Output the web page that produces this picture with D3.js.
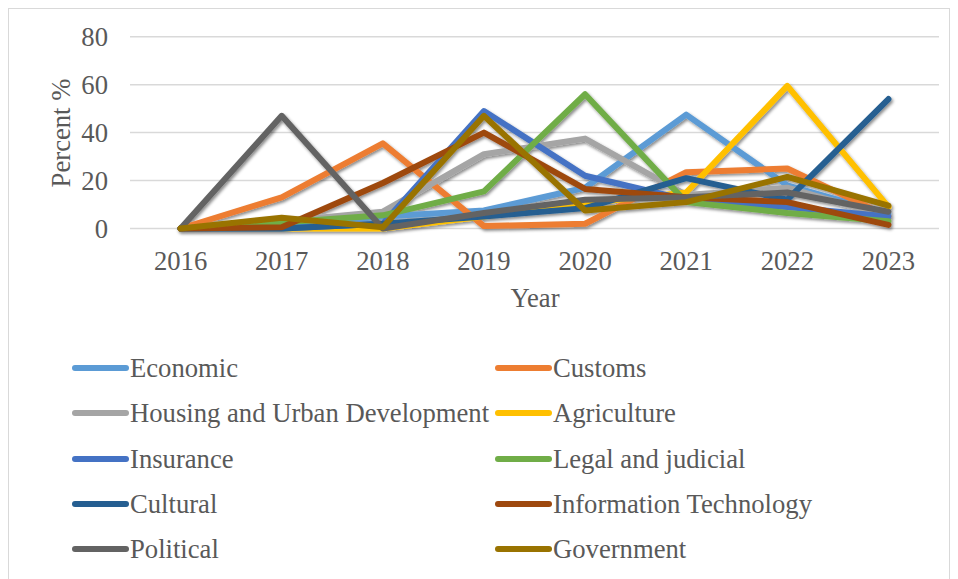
<!DOCTYPE html>
<html>
<head>
<meta charset="utf-8">
<script src="https://cdn.jsdelivr.net/npm/d3@7"></script>
<style>
  html, body { margin: 0; padding: 0; background: #fff; }
  svg { display: block; }
  text { font-family: "Liberation Serif", "Times New Roman", serif; fill: #595959; }
</style>
</head>
<body>
<svg id="chart" width="958" height="579"></svg>
<script>
const years = ["2016", "2017", "2018", "2019", "2020", "2021", "2022", "2023"];
const seriesNames = ["Economic", "Customs", "Housing and Urban Development", "Agriculture", "Insurance",
  "Legal and judicial", "Cultural", "Information Technology", "Political", "Government"];
const seriesColors = ["#5B9BD5", "#ED7D31", "#A5A5A5", "#FFC000", "#4472C4",
  "#70AD47", "#255E91", "#9E480E", "#636363", "#997300"];
const economic    = [0, 1, 5, 7.5, 17, 47.5, 18, 6];
const customs     = [0, 13, 35.5, 1, 2, 23.5, 25, 5];
const housing     = [0, 3, 7, 31, 37.5, 14, 17, 5];
const agriculture = [0, 0, 0, 5, 10.5, 15, 59.5, 9];
const insurance   = [0, 0, 2, 49, 22, 12, 9, 5];
const legal       = [0, 2.5, 5.5, 15.5, 56, 11, 6.5, 3];
const cultural    = [0, 0, 2, 5, 8.5, 21, 12, 54];
const infotech    = [0, 0.5, 19, 40, 16.5, 13, 11, 1.5];
const political   = [0, 47, 0, 6.5, 12, 13, 15, 7];
const government  = [0, 4.5, 0.5, 47, 7.5, 11, 21.5, 9.5];
const yTicks = [0, 20, 40, 60, 80];

const seriesValues = [economic, customs, housing, agriculture, insurance, legal, cultural, infotech, political, government];

const FS = 26.67;
const svg = d3.select("#chart");

// outer border
svg.append("rect").attr("x", 8.5).attr("y", 8.5).attr("width", 941).attr("height", 575)
  .attr("fill", "#fff").attr("stroke", "#d9d9d9").attr("stroke-width", 1);

const x = d3.scalePoint().domain(years).range([130, 939]).padding(0.5);
const y = d3.scaleLinear().domain([0, 80]).range([228.5, 36.7]);

// shadow filter
const defs = svg.append("defs");
const f = defs.append("filter").attr("id", "shadow").attr("x", "-20%").attr("y", "-20%").attr("width", "140%").attr("height", "140%");
f.append("feDropShadow").attr("dx", 1.5).attr("dy", 2).attr("stdDeviation", 1.8)
  .attr("flood-color", "#000").attr("flood-opacity", 0.45);

// gridlines
svg.append("g").selectAll("line").data(yTicks).join("line")
  .attr("x1", 130).attr("x2", 939)
  .attr("y1", d => y(d)).attr("y2", d => y(d))
  .attr("stroke", "#d9d9d9").attr("stroke-width", 1.5);

// y tick labels
svg.append("g").selectAll("text").data(yTicks).join("text")
  .attr("x", 108).attr("y", d => y(d)).attr("dy", "0.35em")
  .attr("text-anchor", "end").attr("font-size", FS)
  .text(d => d);

// x tick labels
svg.append("g").selectAll("text").data(years).join("text")
  .attr("x", d => x(d)).attr("y", 270)
  .attr("text-anchor", "middle").attr("font-size", FS)
  .text(d => d);

// axis titles
svg.append("text").attr("transform", "translate(70,133) rotate(-90)")
  .attr("text-anchor", "middle").attr("font-size", FS).text("Percent %");
svg.append("text").attr("x", 535).attr("y", 307)
  .attr("text-anchor", "middle").attr("font-size", FS).text("Year");

// lines
const line = d3.line().x((d, i) => x(years[i])).y(d => y(d));
svg.append("g").attr("filter", "url(#shadow)")
  .selectAll("path").data(seriesValues).join("path")
  .attr("d", d => line(d))
  .attr("fill", "none")
  .attr("stroke", (d, i) => seriesColors[i])
  .attr("stroke-width", 6)
  .attr("stroke-linejoin", "round")
  .attr("stroke-linecap", "round");

// legend
const legendRowsY = [368, 413, 459, 504, 549];
const legendCols = [{ sx: 75, ex: 126, tx: 130 }, { sx: 498, ex: 549, tx: 553 }];
const lg = svg.append("g");
seriesNames.forEach((name, i) => {
  const col = legendCols[i % 2];
  const ry = legendRowsY[Math.floor(i / 2)];
  lg.append("line").attr("x1", col.sx).attr("x2", col.ex).attr("y1", ry).attr("y2", ry)
    .attr("stroke", seriesColors[i]).attr("stroke-width", 6).attr("stroke-linecap", "round");
  lg.append("text").attr("x", col.tx).attr("y", ry).attr("dy", "0.35em")
    .attr("font-size", FS).text(name);
});
</script>
</body>
</html>
